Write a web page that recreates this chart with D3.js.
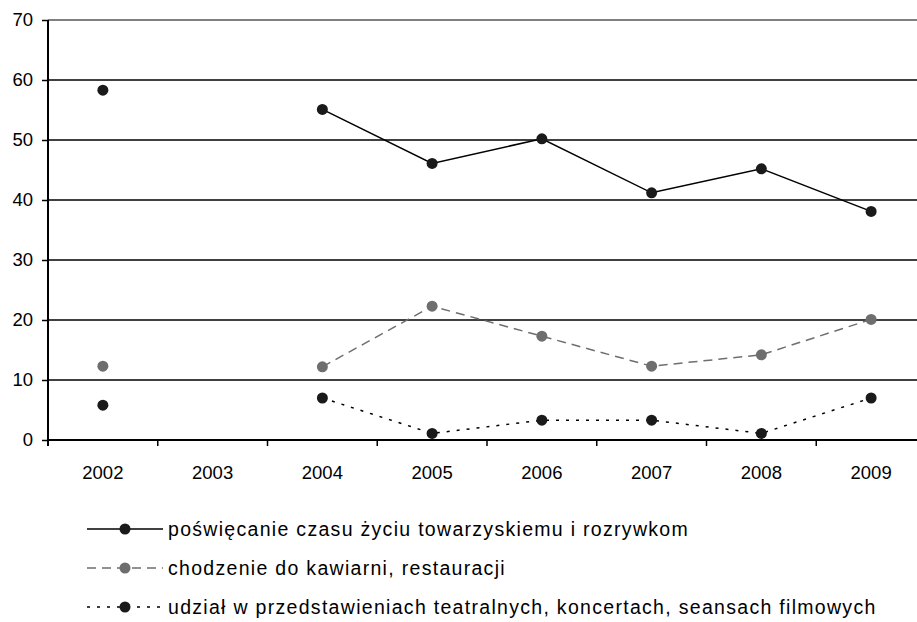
<!DOCTYPE html>
<html>
<head>
<meta charset="utf-8">
<script src="https://cdn.jsdelivr.net/npm/d3@7"></script>
<style>
  body { margin: 0; background: #fff; }
  svg { display: block; font-family: "Liberation Sans", Arial, sans-serif; }
</style>
</head>
<body>
<div class="chart"></div>
<script>
var years = ["2002", "2003", "2004", "2005", "2006", "2007", "2008", "2009"];
var towarzyskie = [58.3, null, 55.1, 46.1, 50.2, 41.2, 45.2, 38.1];
var kawiarnie = [12.3, null, 12.2, 22.3, 17.3, 12.3, 14.2, 20.1];
var teatr = [5.8, null, 7.0, 1.1, 3.3, 3.3, 1.1, 7.0];
var yTicks = [0, 10, 20, 30, 40, 50, 60, 70];
var seriesNames = [
  "poświęcanie czasu życiu towarzyskiemu i rozrywkom",
  "chodzenie do kawiarni, restauracji",
  "udział w przedstawieniach teatralnych, koncertach, seansach filmowych"
];

var w = 917, h = 622;
var pLeft = 48, pRight = 926, pTop = 20, pBottom = 440;

var svg = d3.select(".chart").append("svg")
    .attr("width", w).attr("height", h);

var x = d3.scaleBand().domain(years).range([pLeft, pRight]);
var y = d3.scaleLinear().domain([0, 70]).range([pBottom, pTop]);

// gridlines
svg.selectAll("line.grid")
    .data(yTicks.filter(function(d) { return d > 0; }))
    .enter().append("line")
    .attr("x1", pLeft).attr("x2", pRight)
    .attr("y1", function(d) { return y(d); })
    .attr("y2", function(d) { return y(d); })
    .attr("stroke", function(d) { return d == 70 ? "#808080" : "#000"; })
    .attr("stroke-width", function(d) { return d == 70 ? 2 : 1.5; });

// y axis
var yAxis = svg.append("g")
    .attr("transform", "translate(" + pLeft + ",0)")
    .call(d3.axisLeft(y).tickValues(yTicks).tickSize(6).tickPadding(9));
yAxis.select(".domain").attr("d", "M0," + pTop + "V" + (pBottom + 6)).attr("stroke-width", 2);
yAxis.selectAll(".tick line").attr("stroke-width", 1.5);
yAxis.selectAll("text").attr("font-size", 18.5).attr("fill", "#000")
    .attr("font-family", "Liberation Sans, Arial, sans-serif");

// x axis
var xAxis = svg.append("g")
    .attr("transform", "translate(0," + pBottom + ")")
    .call(d3.axisBottom(x).tickSize(0).tickPadding(26));
xAxis.select(".domain").attr("d", "M" + pLeft + ",0H" + pRight).attr("stroke-width", 2);
xAxis.selectAll("text").attr("font-size", 18.5).attr("fill", "#000")
    .attr("font-family", "Liberation Sans, Arial, sans-serif");
svg.selectAll("line.xtick")
    .data(years)
    .enter().append("line")
    .attr("x1", function(d) { return x(d); })
    .attr("x2", function(d) { return x(d); })
    .attr("y1", pBottom).attr("y2", pBottom + 6)
    .attr("stroke", "#000").attr("stroke-width", 1.5);

var series = [
  { name: seriesNames[0], values: towarzyskie, color: "#000", dot: "#1a1a1a", dash: null },
  { name: seriesNames[1], values: kawiarnie, color: "#6e6e6e", dot: "#6e6e6e", dash: "9,6" },
  { name: seriesNames[2], values: teatr, color: "#000", dot: "#1a1a1a", dash: "3,7" }
];

var line = d3.line()
    .defined(function(d) { return d != null; })
    .x(function(d, i) { return x(years[i]) + x.bandwidth() / 2; })
    .y(function(d) { return y(d); });

series.forEach(function(s) {
  svg.append("path")
      .attr("d", line(s.values))
      .attr("fill", "none")
      .attr("stroke", s.color)
      .attr("stroke-width", 1.5)
      .attr("stroke-dasharray", s.dash);
  svg.selectAll(null)
      .data(s.values.map(function(v, i) { return { v: v, yr: years[i] }; })
        .filter(function(d) { return d.v != null; }))
      .enter().append("circle")
      .attr("cx", function(d) { return x(d.yr) + x.bandwidth() / 2; })
      .attr("cy", function(d) { return y(d.v); })
      .attr("r", 5.5)
      .attr("fill", s.dot);
});

// legend
var legend = svg.selectAll("g.legend")
    .data(series)
    .enter().append("g")
    .attr("transform", function(d, i) { return "translate(87," + (529 + i * 39) + ")"; });
legend.append("line")
    .attr("x1", 0).attr("x2", 76).attr("y1", 0).attr("y2", 0)
    .attr("stroke", function(d) { return d.color; })
    .attr("stroke-width", 1.5)
    .attr("stroke-dasharray", function(d) { return d.dash; });
legend.append("circle")
    .attr("cx", 38).attr("cy", 0).attr("r", 5.5)
    .attr("fill", function(d) { return d.dot; });
legend.append("text")
    .attr("x", 81).attr("y", 7)
    .attr("font-size", 19.5)
    .attr("letter-spacing", 1.3)
    .text(function(d) { return d.name; });
</script>
</body>
</html>
